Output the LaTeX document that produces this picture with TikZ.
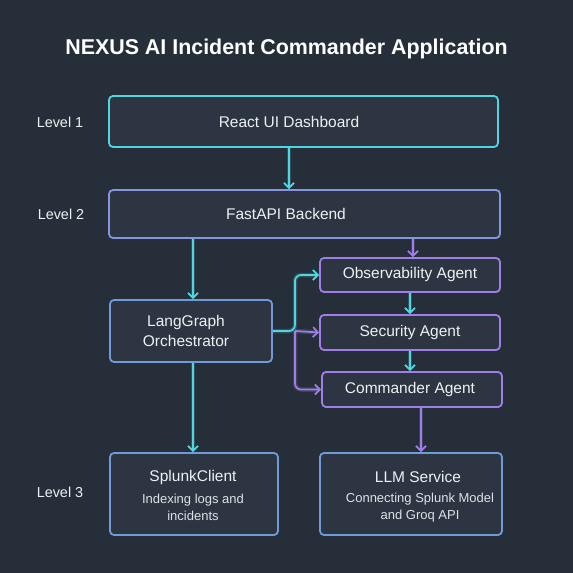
\documentclass[tikz,border=0pt]{standalone}
\usepackage{fontspec}
\setmainfont{Liberation Sans}
\usetikzlibrary{arrows.meta,positioning,calc}
\definecolor{bgc}{HTML}{262E39}
\definecolor{boxfill}{HTML}{2C3541}
\definecolor{cyanc}{HTML}{4FD6E0}
\definecolor{purp}{HTML}{A07EE8}
\definecolor{steel}{HTML}{6F9BD8}
\definecolor{midblue}{HTML}{8396DE}
\definecolor{txt}{HTML}{EEF1F4}
\definecolor{subtxt}{HTML}{DDE2E8}
\tikzset{
  boxbase/.style={draw, line width=1.8pt, rounded corners=4pt, fill=boxfill, inner sep=0pt},
  cyanbox/.style={boxbase, draw=cyanc},
  steelbox/.style={boxbase, draw=steel},
  midbox/.style={boxbase, draw=midblue},
  purpbox/.style={boxbase, draw=purp},
  ttl/.style={text=txt, font=\fontsize{15.5}{18}\selectfont, align=center, inner sep=0pt},
  sub/.style={text=subtxt, font=\fontsize{13}{17}\selectfont, align=center, inner sep=0pt},
  lvl/.style={text=txt, font=\fontsize{14.4}{17}\selectfont, inner sep=0pt},
  glowc/.style={preaction={draw=cyanc, opacity=0.22, line width=4.5pt}},
  glowp/.style={preaction={draw=purp, opacity=0.22, line width=4.5pt}},
  carrow/.style={draw=cyanc, line width=1.7pt, glowc, -{Straight Barb[length=5pt,width=10pt,line width=1.7pt]}},
  parrow/.style={draw=purp, line width=1.7pt, glowp, -{Straight Barb[length=5pt,width=10pt,line width=1.7pt]}},
  cline/.style={draw=cyanc, line width=1.7pt, glowc},
}
\begin{document}
\begin{tikzpicture}[x=1pt,y=-1pt]
\fill[bgc] (0,0) rectangle (573,573);
\useasboundingbox (0,0) rectangle (573,573);

\node[text=white, font=\bfseries\fontsize{21.4}{25}\selectfont, inner sep=0pt] (title) at (286.5,49) {NEXUS AI Incident Commander Application};

% level labels
\node[lvl] (l1) at (60,122) {Level 1};
\node[lvl] (l2) at (61,214) {Level 2};
\node[lvl] (l3) at (60,492) {Level 3};

% boxes
\node[cyanbox, minimum width=389pt, minimum height=51pt] (react) at (303.5,121.5) {};
\node[midbox, minimum width=391pt, minimum height=48pt] (fast) at (304.5,214) {};
\node[steelbox, minimum width=162pt, minimum height=62pt] (lang) at (191,331) {};
\node[purpbox, minimum width=180pt, minimum height=34pt] (obs) at (410,275) {};
\node[purpbox, minimum width=180pt, minimum height=35pt] (sec) at (410,332.5) {};
\node[purpbox, minimum width=180pt, minimum height=35pt] (cmd) at (412,389.5) {};
\node[steelbox, minimum width=168pt, minimum height=82pt] (splunk) at (194,494) {};
\node[steelbox, minimum width=182pt, minimum height=82pt] (llm) at (411,494) {};

% texts
\node[ttl] (reactT) at (289,122) {React UI Dashboard};
\node[ttl] (fastT) at (286,214) {FastAPI Backend};
\node[ttl, font=\fontsize{15.5}{20}\selectfont] (langT) at (186,331) {LangGraph\\Orchestrator};
\node[ttl] (obsT) at (410,274) {Observability Agent};
\node[ttl] (secT) at (410,332) {Security Agent};
\node[ttl] (cmdT) at (410,389) {Commander Agent};
\node[ttl] (splT) at (193,477) {SplunkClient};
\node[sub] (splS) at (193,507.5) {Indexing logs and\\incidents};
\node[ttl] (llmT) at (418,477) {LLM Service};
\node[sub] (llmS) at (420,507.5) {Connecting Splunk Model\\and Groq API};

% helper coordinates
\coordinate (x289) at (289,0);
\coordinate (x193) at (193,0);
\coordinate (x413) at (413,0);
\coordinate (x421) at (421,0);
\coordinate (j) at (295,331);

% connectors
\draw[carrow] (react.south -| x289) -- (fast.north -| x289);
\draw[carrow] (fast.south -| x193) -- (lang.north -| x193);
\draw[parrow] (fast.south -| x413) -- (obs.north -| x413);
\draw[carrow, rounded corners=6pt] (lang.east) -- (j) |- (obs.west);
\draw[parrow] (j) -- (sec.west);
\draw[parrow, rounded corners=6pt] (j) |- (cmd.west);
\draw[carrow] (obs.south) -- (obs.south |- sec.north);
\draw[carrow] (sec.south) -- (sec.south |- cmd.north);
\draw[carrow] (lang.south -| x193) -- (splunk.north -| x193);
\draw[parrow] (cmd.south -| x421) -- (llm.north -| x421);
\end{tikzpicture}
\end{document}
